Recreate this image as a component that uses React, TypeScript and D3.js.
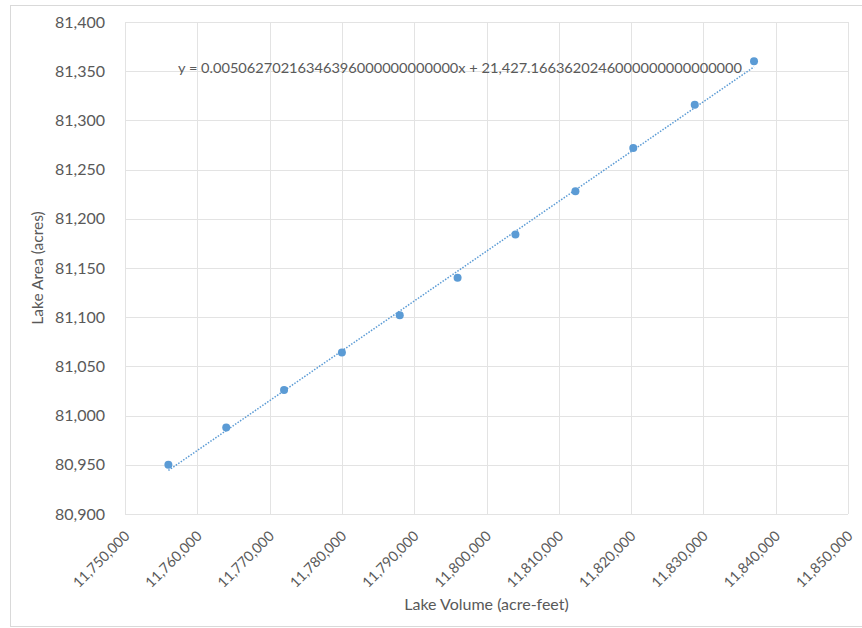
import { axisBottom, axisLeft, format, scaleLinear, select } from 'd3';
import { useEffect, useRef } from 'react';

// lake volume (acre-feet) vs lake area (acres)
const volumes = [
  11756000, 11764000, 11772000, 11780000, 11788000, 11796000, 11804000, 11812300, 11820300,
  11828800, 11837000,
];
const areas = [80950, 80988, 81026, 81064, 81102, 81140, 81184, 81228, 81272, 81316, 81360];

const xTicks = [
  11750000, 11760000, 11770000, 11780000, 11790000, 11800000, 11810000, 11820000, 11830000,
  11840000, 11850000,
];
const yTicks = [80900, 80950, 81000, 81050, 81100, 81150, 81200, 81250, 81300, 81350, 81400];

// linear trendline as printed on the chart
const trendSlope = 0.005062702163464;
const trendIntercept = 21427.166362024;
const trendLabel =
  'y = 0.00506270216346396000000000000x + 21,427.1663620246000000000000000';

const WIDTH = 862;
const HEIGHT = 628;
const MARGINS = { top: 22, right: 14, bottom: 114, left: 125 };

const App = () => {
  const svgElem = useRef<SVGSVGElement>(null);

  useEffect(() => {
    if (!svgElem.current) {
      return;
    }
    const svg = select(svgElem.current);
    svg.selectAll('*').remove();

    const font = 'Lato, "Open Sans", sans-serif';
    const textColor = '#595959';

    // outer chart frame
    svg
      .append('rect')
      .attr('x', 10.5)
      .attr('y', 5.5)
      .attr('width', 860)
      .attr('height', 621)
      .attr('fill', '#fff')
      .attr('stroke', '#d9d9d9');

    const xScale = scaleLinear()
      .domain([xTicks[0], xTicks[xTicks.length - 1]])
      .range([MARGINS.left, WIDTH - MARGINS.right]);
    const yScale = scaleLinear()
      .domain([yTicks[0], yTicks[yTicks.length - 1]])
      .range([HEIGHT - MARGINS.bottom, MARGINS.top]);

    const fmt = format(',');

    // gridlines
    const grid = svg.append('g');
    grid
      .selectAll('line.v')
      .data(xTicks)
      .join('line')
      .attr('class', 'v')
      .attr('x1', (d) => Math.round(xScale(d)) + 0.5)
      .attr('x2', (d) => Math.round(xScale(d)) + 0.5)
      .attr('y1', yScale.range()[1])
      .attr('y2', yScale.range()[0])
      .attr('stroke', '#e3e3e3');
    grid
      .selectAll('line.h')
      .data(yTicks)
      .join('line')
      .attr('class', 'h')
      .attr('x1', xScale.range()[0])
      .attr('x2', xScale.range()[1])
      .attr('y1', (d) => Math.round(yScale(d)) + 0.5)
      .attr('y2', (d) => Math.round(yScale(d)) + 0.5)
      .attr('stroke', '#e3e3e3');

    // y axis
    const yAxis = axisLeft(yScale)
      .tickValues(yTicks)
      .tickSize(0)
      .tickPadding(20)
      .tickFormat((d) => fmt(d as number));
    const yG = svg
      .append('g')
      .attr('transform', `translate(${MARGINS.left}, 0)`)
      // @ts-expect-error: d3 typing mismatch
      .call(yAxis);
    yG.select('.domain').remove();
    yG.selectAll('text')
      .attr('font-family', font)
      .attr('font-size', 16)
      .attr('fill', textColor);

    // x axis, labels rotated -45
    const xAxis = axisBottom(xScale)
      .tickValues(xTicks)
      .tickSize(0)
      .tickFormat((d) => fmt(d as number));
    const xG = svg
      .append('g')
      .attr('transform', `translate(0, ${HEIGHT - MARGINS.bottom})`)
      // @ts-expect-error: d3 typing mismatch
      .call(xAxis);
    xG.select('.domain').remove();
    xG.selectAll('text')
      .attr('font-family', font)
      .attr('font-size', 14.3)
      .attr('fill', textColor)
      .attr('text-anchor', 'end')
      .attr('dy', 0)
      .attr('y', 0)
      .attr('transform', 'translate(5, 23) rotate(-45)');

    // axis titles
    svg
      .append('text')
      .attr('transform', `translate(43, ${(yScale.range()[0] + yScale.range()[1]) / 2}) rotate(-90)`)
      .attr('text-anchor', 'middle')
      .attr('font-family', font)
      .attr('font-size', 15.5)
      .attr('fill', textColor)
      .text('Lake Area (acres)');
    svg
      .append('text')
      .attr('x', (xScale.range()[0] + xScale.range()[1]) / 2)
      .attr('y', 610)
      .attr('text-anchor', 'middle')
      .attr('font-family', font)
      .attr('font-size', 16)
      .attr('fill', textColor)
      .text('Lake Volume (acre-feet)');

    // trendline
    const x0 = volumes[0];
    const x1 = volumes[volumes.length - 1];
    svg
      .append('line')
      .attr('x1', xScale(x0))
      .attr('y1', yScale(trendSlope * x0 + trendIntercept))
      .attr('x2', xScale(x1))
      .attr('y2', yScale(trendSlope * x1 + trendIntercept))
      .attr('stroke', '#5b9bd5')
      .attr('stroke-width', 1.5)
      .attr('stroke-dasharray', '1.5 1.5');

    // points
    svg
      .append('g')
      .selectAll('circle')
      .data(volumes.map((v, i) => ({ x: v, y: areas[i] })))
      .join('circle')
      .attr('cx', (d) => xScale(d.x))
      .attr('cy', (d) => yScale(d.y))
      .attr('r', 4)
      .attr('fill', '#5b9bd5');

    // equation label
    svg
      .append('text')
      .attr('x', 178)
      .attr('y', 73)
      .attr('font-family', font)
      .attr('font-size', 14)
      .attr('textLength', 564)
      .attr('lengthAdjust', 'spacingAndGlyphs')
      .attr('fill', textColor)
      .text(trendLabel);
  }, []);

  return (
    <svg
      ref={svgElem}
      width={WIDTH}
      height={HEIGHT}
      style={{ position: 'absolute', left: 0, top: 0, background: '#fff' }}
    />
  );
};

export default App;
